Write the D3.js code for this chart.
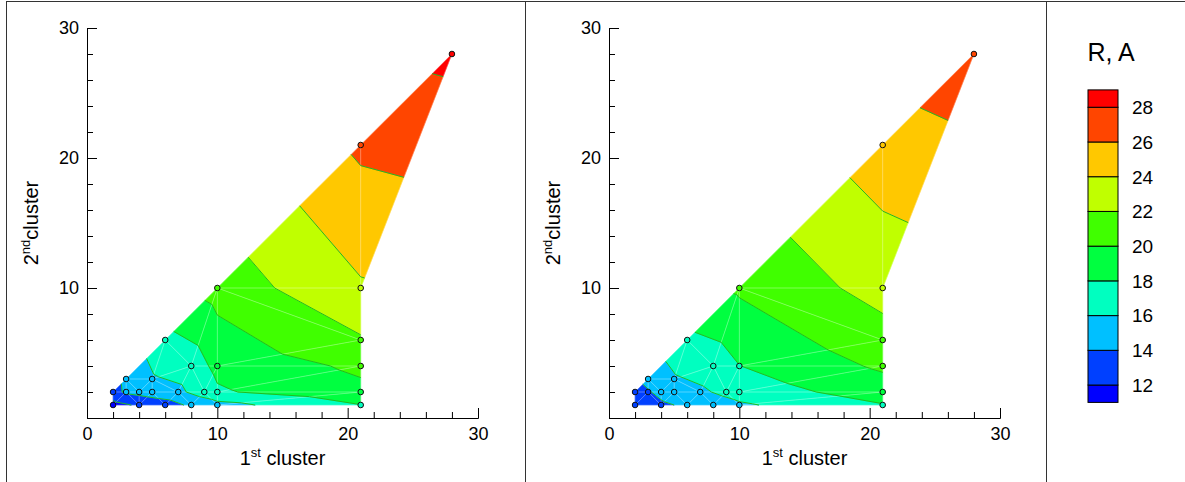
<!DOCTYPE html>
<html><head><meta charset="utf-8">
<script src="https://cdn.jsdelivr.net/npm/d3@7"></script>
<style>
body{margin:0;background:#fff}
svg{display:block}
text{font-family:Arial,"Liberation Sans",sans-serif;fill:#000}
</style>
</head><body>
<svg id="c" width="1185" height="482"></svg>
<script>
// ---------------- data ----------------
const pointsX = [2,4,6,8,10,21, 2,3,4,5,7,9,10,21, 3,5, 8,10,21, 6,21, 10,21, 21, 28];
const pointsY = [1,1,1,1,1,1,   2,2,2,2,2,2,2,2,   3,3, 4,4,4,   6,6,  10,10, 21, 28];
const leftR  = [11.3,12.3,13.0,14.4,15.3,17.95, 13.3,14.3,14.6,15.0,15.6,16.9,17.75,19.5, 14.4,15.8, 17.0,18.5,20.4, 17.45,21.8, 20.8,23.8, 26.37, 28.45];
const rightR = [12.8,13.6,14.4,15.1,15.7,17.89, 13.0,13.8,14.6,15.2,15.7,16.4,16.84,19.0, 14.68,15.8, 17.0,17.97,20.32, 17.6,21.25, 20.29,22.72, 25.1, 27.3];
const levels = [12,14,16,18,20,22,24,26,28];
const bandColors = ["#0000FF","#0040FF","#00C0FF","#00FFC0","#00FF40","#40FF00","#C0FF00","#FFC800","#FF4500","#FF0000"];
const axisTicksMajor = [0,10,20,30];
const axisTicksMinor = [2,4,6,8,12,14,16,18,22,24,26,28];
const yTickLabels = [10,20,30];
const legendLabels = [12,14,16,18,20,22,24,26,28];
const legendRange = [11,29];
const legendTitle = "R, A";

// ---------------- setup ----------------
const svg = d3.select("#c");
const W = 1185, H = 482;
const fr = svg.append("g").attr("stroke","#333").attr("stroke-width",1);
fr.append("line").attr("x1",6).attr("x2",W).attr("y1",1.5).attr("y2",1.5);
[6.5,525.5,1046.5].forEach(x=>fr.append("line").attr("x1",x).attr("x2",x).attr("y1",1.5).attr("y2",H));

function bandIndex(v){
  let i=0; while(i<levels.length && v>=levels[i]) i++; return i;
}

const pts = pointsX.map((x,i)=>[x,pointsY[i]]);
const delaunay = d3.Delaunay.from(pts);
const tris = [];
for(let t=0;t<delaunay.triangles.length/3;t++){
  const a=delaunay.triangles[3*t], b=delaunay.triangles[3*t+1], c=delaunay.triangles[3*t+2];
  const cx=(pts[a][0]+pts[b][0]+pts[c][0])/3, cy=(pts[a][1]+pts[b][1]+pts[c][1])/3;
  if(cx>21 && cy < 10+(cx-21)*18/7) continue; // outside the data region
  tris.push([a,b,c]);
}

function clip(poly, lev, above){
  const out=[];
  for(let i=0;i<poly.length;i++){
    const a=poly[i], b=poly[(i+1)%poly.length];
    const ina = above ? a[2]>=lev : a[2]<=lev;
    const inb = above ? b[2]>=lev : b[2]<=lev;
    if(ina) out.push(a);
    if(ina!==inb){
      const t=(lev-a[2])/(b[2]-a[2]);
      out.push([a[0]+t*(b[0]-a[0]), a[1]+t*(b[1]-a[1]), lev]);
    }
  }
  return out;
}

function drawPanel(x0, vals){
  const xs = d3.scaleLinear().domain([0,30]).range([x0, x0+391]);
  const ys = d3.scaleLinear().domain([0,30]).range([418, 28]);
  const g = svg.append("g");
  const fill = g.append("g");
  const mesh = g.append("g");
  const lines = g.append("g");
  tris.forEach(tr=>{
    const base = tr.map(i=>[pointsX[i],pointsY[i],vals[i]]);
    for(let b=0;b<bandColors.length;b++){
      let poly = base;
      if(b>0) poly = clip(poly, levels[b-1], true);
      if(poly.length>=3 && b<levels.length) poly = clip(poly, levels[b], false);
      if(poly.length<3) continue;
      fill.append("path")
        .attr("d","M"+poly.map(p=>xs(p[0])+","+ys(p[1])).join("L")+"Z")
        .attr("fill",bandColors[b]).attr("stroke",bandColors[b]).attr("stroke-width",0.6)
        .attr("stroke-linejoin","round");
    }
    mesh.append("path")
      .attr("d","M"+base.map(p=>xs(p[0])+","+ys(p[1])).join("L")+"Z")
      .attr("fill","none").attr("stroke","#fff").attr("stroke-opacity",0.22).attr("stroke-width",0.8);
    levels.forEach(l=>{
      const seg=[];
      for(let k=0;k<3;k++){
        const p=base[k], q=base[(k+1)%3];
        if((p[2]-l)*(q[2]-l)<0){
          const t=(l-p[2])/(q[2]-p[2]);
          seg.push([p[0]+t*(q[0]-p[0]), p[1]+t*(q[1]-p[1])]);
        }
      }
      if(seg.length===2){
        lines.append("line").attr("x1",xs(seg[0][0])).attr("y1",ys(seg[0][1]))
          .attr("x2",xs(seg[1][0])).attr("y2",ys(seg[1][1]))
          .attr("stroke","#22bb22").attr("stroke-width",1);
      }
    });
  });
  g.append("g").selectAll("circle").data(pointsX.map((x,i)=>i)).join("circle")
    .attr("cx",i=>xs(pointsX[i])).attr("cy",i=>ys(pointsY[i])).attr("r",2.8)
    .attr("fill",i=>bandColors[bandIndex(vals[i])]).attr("stroke","#111").attr("stroke-width",1);

  const ax = g.append("g").attr("transform","translate(0,418)");
  ax.call(d3.axisBottom(xs).tickValues(axisTicksMajor).tickSizeInner(-10).tickSizeOuter(0).tickPadding(9).tickFormat(d3.format("d")));
  ax.append("g").call(d3.axisBottom(xs).tickValues(axisTicksMinor).tickSizeInner(-6).tickSizeOuter(0).tickFormat(""));
  const ay = g.append("g").attr("transform",`translate(${x0},0)`);
  ay.call(d3.axisLeft(ys).tickValues(axisTicksMajor).tickSizeInner(-10).tickSizeOuter(0).tickPadding(8)
     .tickFormat(d=>yTickLabels.includes(d)?d:""));
  ay.append("g").call(d3.axisLeft(ys).tickValues(axisTicksMinor).tickSizeInner(-6).tickSizeOuter(0).tickFormat(""));
  g.selectAll(".domain").attr("stroke","#000");
  g.selectAll(".tick line").attr("stroke","#000");
  g.selectAll(".tick text").attr("font-size",18).attr("font-family",'Arial,"Liberation Sans",sans-serif').attr("fill","#000");
  const tx = g.append("text").attr("x",xs(15)).attr("y",465).attr("text-anchor","middle").attr("font-size",20);
  tx.append("tspan").text("1");
  tx.append("tspan").attr("font-size",13).attr("dy",-8).text("st");
  tx.append("tspan").attr("dy",8).text(" cluster");
  const ty = g.append("text").attr("transform",`translate(${x0-49},${ys(15)}) rotate(-90)`).attr("text-anchor","middle").attr("font-size",20);
  ty.append("tspan").text("2");
  ty.append("tspan").attr("font-size",13).attr("dy",-8).text("nd");
  ty.append("tspan").attr("dy",8).text("cluster");
}

drawPanel(87, leftR);
drawPanel(609, rightR);

const ls = d3.scaleLinear().domain(legendRange).range([402.4, 89.9]);
const lg = svg.append("g");
const edges = [legendRange[0], ...levels, legendRange[1]];
for(let b=0;b<bandColors.length;b++){
  lg.append("rect").attr("x",1088).attr("width",30)
    .attr("y",ls(edges[b+1])).attr("height",ls(edges[b])-ls(edges[b+1]))
    .attr("fill",bandColors[b]).attr("stroke","#000").attr("stroke-width",1);
}
lg.selectAll("text.l").data(legendLabels).join("text").attr("class","l")
  .attr("x",1132).attr("y",d=>ls(d)).attr("dy","0.36em").attr("font-size",19).text(d=>d);
lg.append("text").attr("x",1111).attr("y",61).attr("text-anchor","middle").attr("font-size",25).text(legendTitle);
</script>
</body></html>
